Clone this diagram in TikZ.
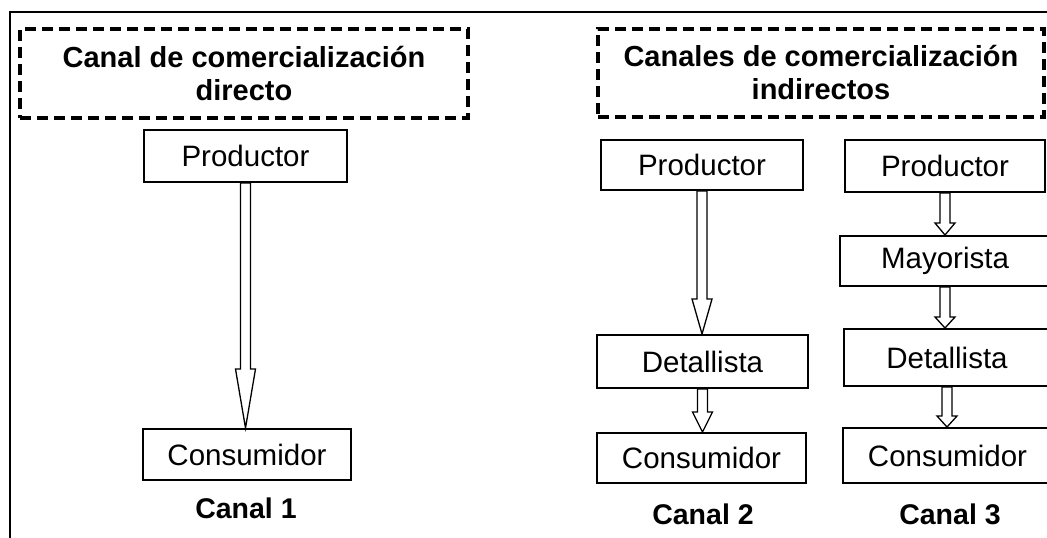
\documentclass[tikz,border=0pt]{standalone}
\usepackage{fontspec}
\setmainfont{Liberation Sans}
\usetikzlibrary{calc}

\newcommand{\flecha}[3]{%
  \draw[flecha] let \p1=(#1.south), \p2=(#2.north) in
    ({\x1-5pt},{\y1}) -- ({\x1-5pt},{\y2+#3pt}) -- ({\x1-10pt},{\y2+#3pt})
    -- ({\x1},{\y2}) -- ({\x1+10pt},{\y2+#3pt}) -- ({\x1+5pt},{\y2+#3pt})
    -- ({\x1+5pt},{\y1}) -- cycle;}

\begin{document}
\begin{tikzpicture}[x=1pt, y=-1pt,
  caja/.style={draw, line width=2pt, inner sep=0pt, font=\fontsize{29.5}{34}\selectfont},
  titulo/.style={draw, line width=3.2pt, dash pattern=on 11pt off 6pt,
    inner sep=0pt, align=center, font=\fontsize{29}{33}\selectfont\bfseries},
  canal/.style={font=\fontsize{28.5}{33}\selectfont\bfseries},
  flecha/.style={draw, fill=white, line width=1.3pt, line join=miter}]
    \useasboundingbox (0,0) rectangle (1047,538);
    \draw[line width=2.8pt] (10,540) -- (10,12) -- (1050,12);

    \node[titulo, minimum width=448pt, minimum height=89pt](t1) at (244,73.5)
        {Canal de comercialización\\directo};
    \node[titulo, minimum width=446pt, minimum height=88pt](t2) at (821,73)
        {Canales de comercialización\\indirectos};

    \node[caja, minimum width=203pt, minimum height=52pt](p1) at (245.5,156){Productor};
    \node[caja, minimum width=208pt, minimum height=51pt](c1) at (247,454.5){Consumidor};
    \node[canal](k1) at (246,508){Canal 1};

    \node[caja, minimum width=202pt, minimum height=50pt](p2) at (702,165){Productor};
    \node[caja, minimum width=211pt, minimum height=53pt](d2) at (702.5,361.5){Detallista};
    \node[caja, minimum width=209pt, minimum height=50pt](c2) at (701.5,458){Consumidor};
    \node[canal](k2) at (703,514){Canal 2};

    \node[caja, minimum width=200pt, minimum height=52pt](p3) at (945,166){Productor};
    \node[caja, minimum width=210pt, minimum height=50pt](m3) at (945,261){Mayorista};
    \node[caja, minimum width=206pt, minimum height=57pt](d3) at (947,357.5){Detallista};
    \node[caja, minimum width=209pt, minimum height=55pt](c3) at (947.5,455.5){Consumidor};
    \node[canal](k3) at (950,514){Canal 3};

    \flecha{p1}{c1}{59}
    \flecha{p2}{d2}{35}
    \flecha{d2}{c2}{20}
    \flecha{p3}{m3}{12}
    \flecha{m3}{d3}{11}
    \flecha{d3}{c3}{11}
\end{tikzpicture}
\end{document}
